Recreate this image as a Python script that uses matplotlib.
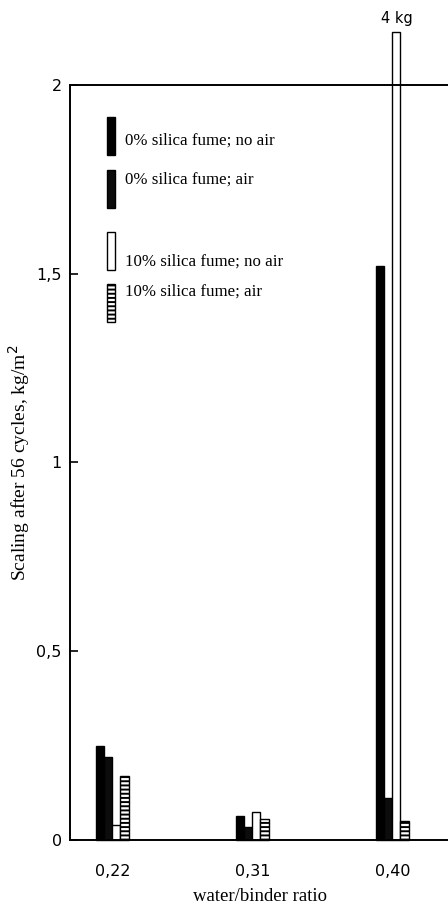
import matplotlib.pyplot as plt
from matplotlib.patches import Rectangle

ratios = [0.22, 0.31, 0.40]
ratio_labels = ['0,22', '0,31', '0,40']
series = ['0% silica fume; no air', '0% silica fume; air',
          '10% silica fume; no air', '10% silica fume; air']
sf0_noair = [0.25, 0.064, 1.52]
sf0_air = [0.22, 0.035, 0.11]
sf10_noair = [0.04, 0.074, 4.0]
sf10_air = [0.17, 0.056, 0.05]
yticks = [0, 0.5, 1, 1.5, 2]
ytick_labels = ['0', '0,5', '1', '1,5', '2']

plt.rcParams['hatch.linewidth'] = 1.4
serif = 'Liberation Serif'

fig = plt.figure(figsize=(4.48, 9.07), dpi=100)
ax = fig.add_axes([0.1563, 0.0739, 0.848, 0.8324])

w = 0.0052
cap = 2.14  # the 4 kg bar is drawn broken above the frame
styles = [dict(color='black', edgecolor='black'),
          dict(color='#0c0c0c', edgecolor='black'),
          dict(color='white', edgecolor='black'),
          dict(color='white', edgecolor='black', hatch='----')]
data = [sf0_noair, sf0_air, sf10_noair, sf10_air]
for i, (vals, st) in enumerate(zip(data, styles)):
    xs = [r + (i - 1.5) * w for r in ratios]
    hs = [min(v, cap) for v in vals]
    bars = ax.bar(xs, hs, width=w, linewidth=1, **st)
    for b in bars:
        b.set_clip_on(False)

big = sf10_noair.index(max(sf10_noair))
ax.text(ratios[big] + 0.5 * w, cap + 0.015, f'{max(sf10_noair):.0f} kg',
        ha='center', va='bottom', fontsize=10.5, family='DejaVu Sans')

ax.set_xlim(0.1928, 0.437)
ax.set_ylim(0, 2)
ax.set_xticks(ratios)
ax.set_xticklabels(ratio_labels, fontsize=11.5, family='DejaVu Sans')
ax.tick_params(axis='x', length=0, pad=17)
ax.set_yticks(yticks)
ax.set_yticklabels(ytick_labels, fontsize=11.5, family='DejaVu Sans')
ax.tick_params(axis='y', direction='in', length=6, width=1.2, pad=6)
for s in ax.spines.values():
    s.set_linewidth(1.4)

ax.set_xlabel('water/binder ratio', fontsize=13.5, family=serif)
ax.xaxis.set_label_coords(0.501, -0.063)
ax.set_ylabel('Scaling after 56 cycles, kg/m$^2$', fontsize=14, family=serif)
ax.yaxis.set_label_coords(-0.10, 0.5)

# hand-drawn key inside the frame
key_y = [(0.907, 0.926), (0.837, 0.875), (0.755, 0.766), (0.686, 0.726)]
for (y0, ty), label, st in zip(key_y, series, styles):
    ax.add_patch(Rectangle((0.098, y0), 0.021, 0.05, transform=ax.transAxes,
                           linewidth=1, **{('facecolor' if k == 'color' else k): v
                                           for k, v in st.items()}))
    ax.text(0.146, ty, label, transform=ax.transAxes, va='center',
            fontsize=12.2, family=serif)

fig.savefig('out.png', dpi=100)
